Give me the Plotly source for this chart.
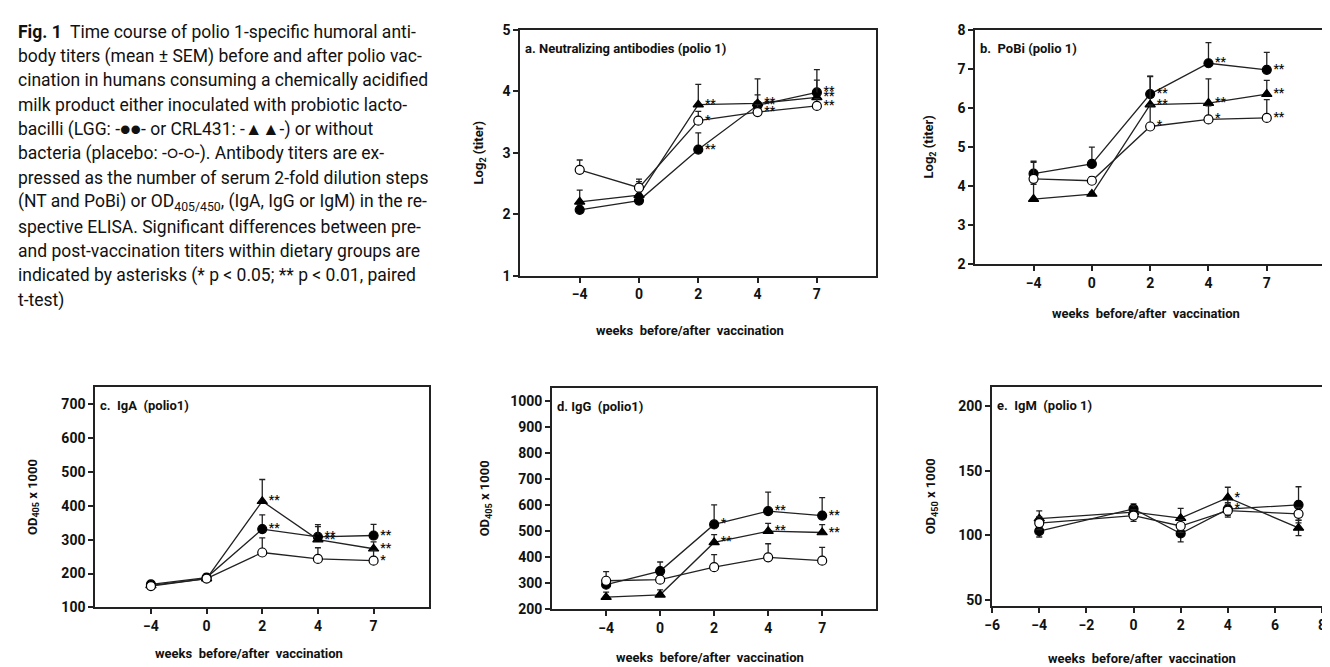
import plotly.graph_objects as go

W, H = 1330, 667
FONT = "Roboto, Lato, sans-serif"

weeks_cat = ["−4", "0", "2", "4", "7"]
weeks_num = [-4, 0, 2, 4, 7]

# ---- panel a: neutralizing antibodies (log2 titer)
a_lgg = [2.07, 2.22, 3.05, 3.77, 3.98]
a_lgg_err = [0.08, 0.08, 0.27, 0.17, 0.37]
a_crl = [2.20, 2.31, 3.78, 3.80, 3.90]
a_crl_err = [0.19, 0.22, 0.33, 0.40, 0.28]
a_pla = [2.72, 2.43, 3.52, 3.66, 3.76]
a_pla_err = [0.16, 0.14, 0.15, 0.12, 0.12]
a_lgg_sig = ["", "", "**", "**", "**"]
a_crl_sig = ["", "", "**", "**", "**"]
a_pla_sig = ["", "", "*", "**", "**"]

# ---- panel b: PoBi (log2 titer)
b_lgg = [4.31, 4.56, 6.35, 7.14, 6.97]
b_lgg_err = [0.32, 0.43, 0.46, 0.53, 0.45]
b_crl = [3.66, 3.79, 6.08, 6.12, 6.35]
b_crl_err = [0.38, 0.05, 0.72, 0.62, 0.35]
b_pla = [4.18, 4.13, 5.52, 5.70, 5.74]
b_pla_err = [0.42, 0.10, 0.55, 0.35, 0.47]
b_lgg_sig = ["", "", "**", "**", "**"]
b_crl_sig = ["", "", "**", "**", "**"]
b_pla_sig = ["", "", "*", "*", "**"]

# ---- panel c: IgA (OD405 x 1000)
c_lgg = [168, 188, 331, 308, 312]
c_lgg_err = [6, 10, 42, 30, 33]
c_crl = [165, 185, 413, 300, 273]
c_crl_err = [5, 12, 64, 44, 20]
c_pla = [163, 185, 262, 243, 238]
c_pla_err = [5, 10, 43, 33, 30]
c_lgg_sig = ["", "", "**", "**", "**"]
c_crl_sig = ["", "", "**", "**", "**"]
c_pla_sig = ["", "", "", "", "*"]

# ---- panel d: IgG (OD405 x 1000)
d_lgg = [295, 347, 526, 577, 560]
d_lgg_err = [20, 35, 75, 73, 69]
d_crl = [247, 256, 457, 500, 495]
d_crl_err = [19, 19, 30, 30, 30]
d_pla = [310, 314, 362, 400, 387]
d_pla_err = [35, 15, 48, 52, 51]
d_lgg_sig = ["", "", "*", "**", "**"]
d_crl_sig = ["", "", "**", "**", "**"]
d_pla_sig = ["", "", "", "", ""]

# ---- panel e: IgM (OD450 x 1000)
e_lgg = [103.3, 120.5, 101.5, 120.4, 123.7]
e_lgg_err = [4.5, 4.0, 6.5, 5.0, 14.0]
e_crl = [113.0, 118.0, 113.4, 129.3, 105.8]
e_crl_err = [6.0, 5.0, 7.5, 8.0, 6.0]
e_pla = [109.6, 115.4, 107.3, 119.2, 116.7]
e_pla_err = [5.0, 4.5, 5.0, 5.0, 5.0]
e_lgg_sig = ["", "", "", "*", ""]
e_crl_sig = ["", "", "", "*", ""]
e_pla_sig = ["", "", "", "", ""]

caption_lines = [
    "<b>Fig. 1</b>  Time course of polio 1-specific humoral anti-",
    "body titers (mean ± SEM) before and after polio vac-",
    "cination in humans consuming a chemically acidified",
    "milk product either inoculated with probiotic lacto-",
    "bacilli (LGG: -●●- or CRL431: -▲▲-) or without",
    "bacteria (placebo: -○-○-). Antibody titers are ex-",
    "pressed as the number of serum 2-fold dilution steps",
    "(NT and PoBi) or OD<sub>405/450</sub>, (IgA, IgG or IgM) in the re-",
    "spective ELISA. Significant differences between pre-",
    "and post-vaccination titers within dietary groups are",
    "indicated by asterisks (* p &lt; 0.05; ** p &lt; 0.01, paired",
    "t-test)",
]

# panel geometry in pixels: left, right, top, bottom
panels = [
    dict(key="a", box=(509, 868, 14, 266), yr=[1, 5], yt=[1, 2, 3, 4, 5],
         title="a. Neutralizing antibodies (polio 1)", ytitle="Log<sub>2</sub> (titer)",
         ytx=468, xt=(680, 322), cat=True,
         data=[(a_lgg, a_lgg_err, a_lgg_sig), (a_crl, a_crl_err, a_crl_sig), (a_pla, a_pla_err, a_pla_sig)]),
    dict(key="b", box=(968, 1321, 14, 254), yr=[2, 8], yt=[2, 3, 4, 5, 6, 7, 8],
         title="b.  PoBi (polio 1)", ytitle="Log<sub>2</sub> (titer)",
         ytx=922, xt=(1140, 305), cat=True,
         data=[(b_lgg, b_lgg_err, b_lgg_sig), (b_crl, b_crl_err, b_crl_sig), (b_pla, b_pla_err, b_pla_sig)]),
    dict(key="c", box=(80, 417, 380, 606), yr=[100, 750], yt=[100, 200, 300, 400, 500, 600, 700],
         title="c.  IgA  (polio1)", ytitle="OD<sub>405</sub> x 1000",
         ytx=17, xt=(235, 653), cat=True,
         data=[(c_lgg, c_lgg_err, c_lgg_sig), (c_crl, c_crl_err, c_crl_sig), (c_pla, c_pla_err, c_pla_sig)]),
    dict(key="d", box=(541, 868, 381, 608), yr=[200, 1050], yt=list(range(200, 1001, 100)),
         title="d. IgG  (polio1)", ytitle="OD<sub>405</sub> x 1000",
         ytx=474, xt=(700, 657), cat=True,
         data=[(d_lgg, d_lgg_err, d_lgg_sig), (d_crl, d_crl_err, d_crl_sig), (d_pla, d_pla_err, d_pla_sig)]),
    dict(key="e", box=(985, 1318, 380, 605), yr=[45, 215], yt=[50, 100, 150, 200],
         title="e.  IgM  (polio 1)", ytitle="OD<sub>450</sub> x 1000",
         ytx=924, xt=(1136, 658), cat=False,
         data=[(e_lgg, e_lgg_err, e_lgg_sig), (e_crl, e_crl_err, e_crl_sig), (e_pla, e_pla_err, e_pla_sig)]),
]

styles = [
    dict(symbol="circle", color="black", lc="black"),
    dict(symbol="triangle-up", color="black", lc="black"),
    dict(symbol="circle", color="white", lc="black"),
]

fig = go.Figure()
annotations = []
tickfont = dict(family=FONT, size=14, color="#111", weight="bold")
lab_font = dict(family=FONT, size=13, color="#111")

for i, p in enumerate(panels, start=1):
    L, R, T, B = p["box"]
    xa = "xaxis" if i == 1 else f"xaxis{i}"
    ya = "yaxis" if i == 1 else f"yaxis{i}"
    xr = "x" if i == 1 else f"x{i}"
    yr = "y" if i == 1 else f"y{i}"
    xs = weeks_cat if p["cat"] else weeks_num
    sym = p["key"] == "e"
    for (vals, errs, sig), st in zip(p["data"], styles):
        fig.add_trace(go.Scatter(
            x=xs, y=vals, xaxis=xr, yaxis=yr,
            mode="lines+markers",
            line=dict(color="#222", width=1.3),
            marker=dict(symbol=st["symbol"], size=9,
                        color=st["color"], line=dict(color=st["lc"], width=1.2)),
            error_y=dict(type="data", array=errs, arrayminus=errs if sym else [0] * len(errs),
                         symmetric=False, color="#222", thickness=1.3, width=3),
            cliponaxis=False, showlegend=False, hoverinfo="skip",
        ))
    # significance asterisks drawn on top, offset to the right of the markers
    for (vals, errs, sig), st in zip(p["data"], styles):
        sx = [x for x, s in zip(xs, sig) if s]
        sy = [y for y, s in zip(vals, sig) if s]
        st_txt = [s for s in sig if s]
        if st_txt:
            fig.add_trace(go.Scatter(
                x=sx, y=sy, xaxis=xr, yaxis=yr, mode="markers+text", text=st_txt,
                marker=dict(size=9, color="rgba(0,0,0,0)"),
                textposition="middle right",
                textfont=dict(family=FONT, size=12, color="#111", weight="bold"),
                cliponaxis=False, showlegend=False, hoverinfo="skip",
            ))
    xaxis = dict(domain=[L / W, R / W], anchor=yr, showline=True, mirror=True,
                 linecolor="#222", linewidth=2, ticks="outside", ticklen=5, tickwidth=1.5,
                 tickcolor="#222", showgrid=False, zeroline=False, tickfont=tickfont)
    if p["cat"]:
        xaxis.update(type="category", categoryorder="array", categoryarray=weeks_cat, range=[-1, 5])
    else:
        xaxis.update(range=[-6, 8], tickvals=[-6, -4, -2, 0, 2, 4, 6, 8],
                     ticktext=["−6", "−4", "−2", "0", "2", "4", "6", "8"])
    yaxis = dict(domain=[1 - B / H, 1 - T / H], anchor=xr, range=p["yr"], tickvals=p["yt"],
                 showline=True, mirror=True, linecolor="#222", linewidth=2,
                 ticks="outside", ticklen=5, tickwidth=1.5, tickcolor="#222",
                 showgrid=False, zeroline=False, tickfont=tickfont)
    fig.layout[xa] = xaxis
    fig.layout[ya] = yaxis
    annotations.append(dict(text="<b>" + p["title"] + "</b>", x=(L + 3) / W, y=1 - (T + 19) / H,
                            xref="paper", yref="paper", xanchor="left", yanchor="middle",
                            showarrow=False, font=dict(family=FONT, size=13, color="#111")))
    annotations.append(dict(text="<b>" + p["ytitle"] + "</b>", x=p["ytx"] / W, y=1 - ((T + B) / 2) / H,
                            xref="paper", yref="paper", xanchor="center", yanchor="middle",
                            textangle=-90, showarrow=False, font=lab_font))
    annotations.append(dict(text="<b>weeks  before/after  vaccination</b>", x=p["xt"][0] / W,
                            y=1 - p["xt"][1] / H, xref="paper", yref="paper",
                            xanchor="center", yanchor="middle", showarrow=False, font=lab_font))

for k, line in enumerate(caption_lines):
    annotations.append(dict(text=line, x=0, y=1 - (16 + 25 * k) / H, xref="paper", yref="paper",
                            xanchor="left", yanchor="middle", showarrow=False,
                            font=dict(family=FONT, size=17.5, color="#111")))

fig.update_layout(width=W, height=H, margin=dict(l=0, r=0, t=0, b=0),
                  paper_bgcolor="white", plot_bgcolor="white", annotations=annotations)
fig.write_html("out.html")
